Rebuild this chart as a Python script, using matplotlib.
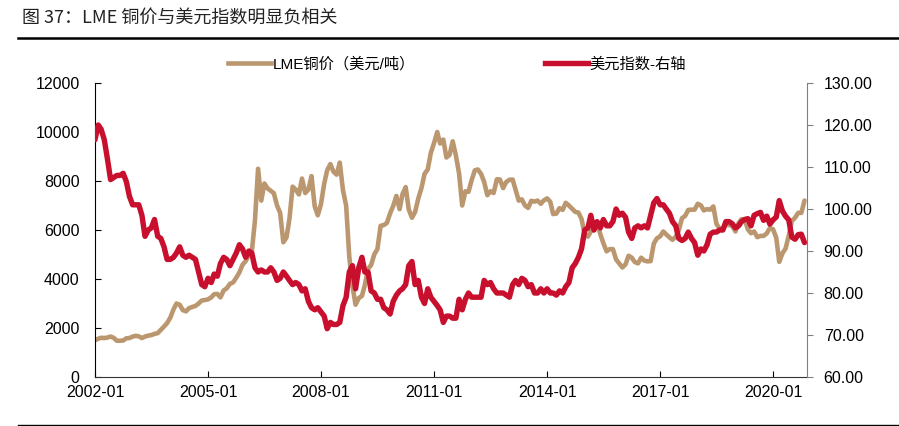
import numpy as np
import pandas as pd
import matplotlib
matplotlib.use('Agg')
import matplotlib.pyplot as plt
from matplotlib.lines import Line2D

plt.rcParams['font.family'] = ['Liberation Sans', 'Noto Sans CJK SC', 'DejaVu Sans']

# monthly, 2002-01 .. 2020-11
months = pd.date_range('2002-01-01', periods=227, freq='MS')

# LME copper, USD/t
copper = [
    1500, 1560, 1600, 1590, 1610, 1650, 1600, 1480, 1480, 1490, 1580, 1590,
    1650, 1680, 1660, 1590, 1650, 1690, 1710, 1760, 1790, 1920, 2060, 2200,
    2420, 2760, 3000, 2950, 2730, 2680, 2810, 2860, 2900, 3000, 3120, 3140,
    3170, 3250, 3380, 3390, 3250, 3530, 3620, 3800, 3860, 4050, 4270, 4580,
    4730, 4980, 5100, 6400, 8500, 7200, 7900, 7700, 7600, 7500, 7000, 6700,
    5500, 5700, 6450, 7770, 7650, 7450, 8100, 7510, 7650, 8200, 6970, 6600,
    7060, 7890, 8440, 8690, 8380, 8260, 8750, 7630, 6990, 4930, 3720, 2950,
    3220, 3310, 3750, 4410, 4570, 5010, 5220, 6170, 6200, 6290, 6680, 6980,
    7390, 6850, 7460, 7750, 6840, 6500, 6730, 7280, 7710, 8290, 8470, 9150,
    9550, 10000, 9530, 9690, 8960, 9070, 9620, 9040, 8300, 7000, 7580, 7560,
    8040, 8440, 8470, 8290, 7960, 7420, 7580, 7510, 8070, 8060, 7710, 7960,
    8050, 8060, 7650, 7200, 7250, 7000, 6900, 7190, 7160, 7200, 7070, 7210,
    7290, 7150, 6650, 6670, 6890, 6820, 7110, 7000, 6870, 6740, 6710, 6450,
    5830, 5730, 5940, 6040, 6300, 5830, 5460, 5130, 5220, 5220, 4800, 4640,
    4470, 4600, 4950, 4870, 4690, 4640, 4870, 4750, 4720, 4730, 5450, 5660,
    5740, 5940, 5820, 5700, 5600, 5720, 5990, 6480, 6580, 6820, 6830, 6830,
    7070, 7000, 6800, 6850, 6830, 6960, 6250, 6050, 6050, 6220, 6200, 6170,
    5940, 6290, 6440, 6440, 6030, 5870, 5940, 5710, 5760, 5760, 5860, 6080,
    6030, 5680, 4700, 5050, 5240, 5760, 6370, 6500, 6700, 6700, 7200,
]

# US dollar index (right axis)
dxy = [
    116.5, 120, 119, 116.5, 112, 107, 107.5, 108, 108, 108.5, 106.5, 103,
    101, 101, 101, 98.5, 93.5, 95, 95.5, 97.5, 93.5, 93, 91, 88,
    88, 88.5, 89.5, 91, 89, 88.5, 89, 88.5, 88, 85, 82, 81.5,
    83.5, 82.5, 84.5, 84, 87, 88.5, 88, 86.5, 88, 89.5, 91.5, 90.5,
    88.5, 90, 89.5, 86, 85, 85.5, 85, 85, 86, 85, 83, 83.5,
    85, 84, 83, 82, 82.5, 82, 80.5, 81, 78, 76.5, 76, 76.5,
    75.5, 74.5, 71.5, 73, 72.5, 72.5, 73, 77, 79, 85, 86.5, 81,
    86, 88.5, 85, 85, 80.5, 80, 78.5, 78.5, 76.5, 76, 75, 78,
    79.5, 80.5, 81, 82, 86.5, 87.5, 82, 83, 79, 77.5, 81, 79,
    78, 77, 76, 73, 74.5, 74.5, 74, 74, 78.5, 76, 78.5, 80,
    79, 79, 79, 79, 83, 82, 82.5, 81, 80, 80, 80, 79.5,
    79, 82, 83, 82, 83.5, 83, 81.5, 82, 80, 80, 81, 80,
    81, 80, 80, 79.5, 80.5, 80, 81.5, 82.5, 86, 87, 88.5, 90.5,
    95, 95.5, 98.5, 95, 97, 95.5, 97.5, 96, 96, 97, 100, 98.5,
    99, 98, 94.5, 93, 95.5, 96, 95.5, 96, 95.5, 98.5, 101.5, 102.5,
    101, 101, 100, 99, 97, 96, 93, 92.5, 93, 94.5, 93, 92,
    89, 90.5, 90, 91.5, 94, 94.5, 94.5, 95, 95, 97, 97, 96.5,
    95.5, 96, 97, 97.5, 97.7, 96, 98.5, 98.9, 99.2, 97.3, 98.3, 96.4,
    97.4, 98.1, 102, 99.5, 98.3, 97.4, 93.3, 92.8, 93.9, 94, 92,
]

copper_color = '#BB9770'
dxy_color = '#C8102E'

fig = plt.figure(figsize=(8.99, 4.26), dpi=100)
ax = fig.add_axes([95 / 899, 1 - 377 / 426, (807 - 95) / 899, (377 - 83) / 426])
ax2 = ax.twinx()

ax.plot(months, copper, color=copper_color, lw=3.3, solid_capstyle='round', solid_joinstyle='round')
ax2.plot(months, dxy, color=dxy_color, lw=3.9, solid_capstyle='round', solid_joinstyle='round')

ax.set_xlim(pd.Timestamp('2002-01-01'), pd.Timestamp('2020-11-25'))
ax.set_ylim(0, 12000)
ax2.set_ylim(60, 130)

ax.set_yticks(np.arange(0, 12001, 2000))
ax2.set_yticks(np.arange(60, 131, 10))
ax2.set_yticklabels(['%.2f' % v for v in np.arange(60, 131, 10)])

xt = [pd.Timestamp('%d-01-01' % y) for y in range(2002, 2021, 3)]
ax.set_xticks(xt)
ax.set_xticklabels([t.strftime('%Y-%m') for t in xt])

for s in ['top']:
    ax.spines[s].set_visible(False)
    ax2.spines[s].set_visible(False)
ax2.spines['left'].set_visible(False)
ax2.spines['bottom'].set_visible(False)
ax.spines['right'].set_visible(False)
ax2.spines['right'].set_color('#808080')
ax.spines['left'].set_color('#000000')
ax.spines['bottom'].set_color('#333333')

ax.tick_params(axis='y', direction='in', length=4, labelsize=11.5, pad=11)
ax.tick_params(axis='x', direction='in', length=4, labelsize=11.5, pad=6)
ax2.tick_params(axis='y', direction='out', length=4, color='#808080', labelsize=11.5, pad=8)

handles = [Line2D([], [], color=copper_color, lw=3.3),
           Line2D([], [], color=dxy_color, lw=3.9)]
fig.legend(handles, ['LME铜价（美元/吨）', '美元指数-右轴'], loc='center',
           bbox_to_anchor=(457 / 899, 1 - 64 / 426), ncol=2, frameon=False,
           fontsize=11, handlelength=2.8, handletextpad=0.1, columnspacing=8.5)

fig.text(22 / 899, 1 - 18 / 426, '图 37：LME 铜价与美元指数明显负相关', fontsize=13,
         family=['Noto Sans CJK SC', 'DejaVu Sans'], fontweight='medium',
         color='#222222', va='center', ha='left')
fig.add_artist(Line2D([18 / 899, 1], [1 - 38 / 426] * 2, color='black', lw=1.8))
fig.add_artist(Line2D([18 / 899, 1], [1 - 425 / 426] * 2, color='black', lw=1.0))

fig.savefig('out.png', dpi=100)
